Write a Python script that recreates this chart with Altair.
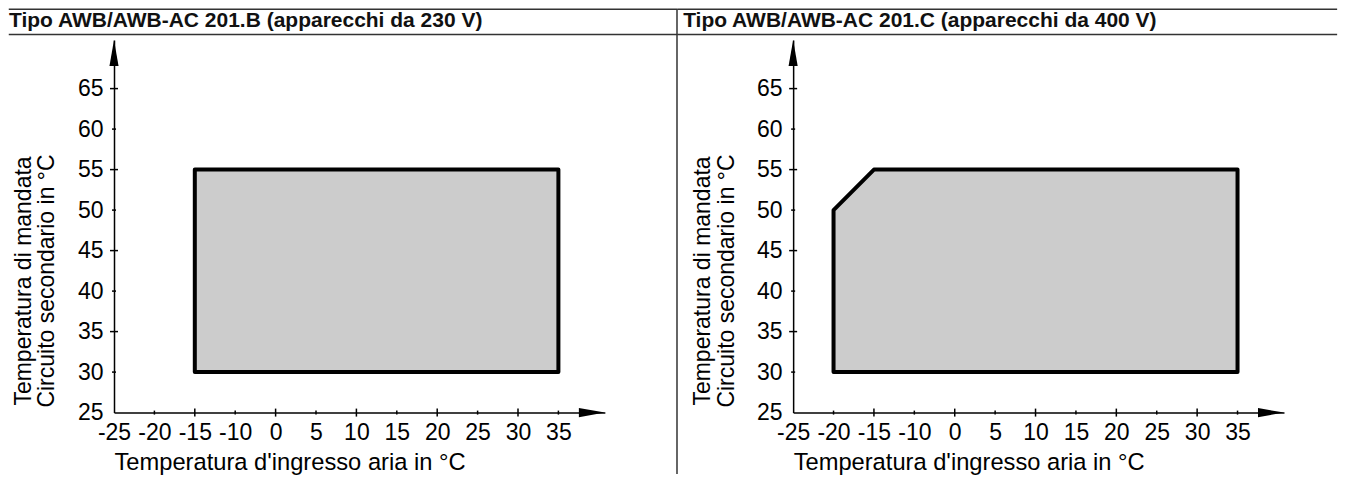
import altair as alt
import pandas as pd

# ---- data ----
titles = ["Tipo AWB/AWB-AC 201.B (apparecchi da 230 V)",
          "Tipo AWB/AWB-AC 201.C (apparecchi da 400 V)"]
x_title = "Temperatura d'ingresso aria in °C"
y_title = ["Temperatura di mandata", "Circuito secondario in °C"]

x_tick_values = [-25, -20, -15, -10, 0, 5, 10, 15, 20, 25, 30, 35]
x_major = [-15, 0, 10, 20, 30]
x_minor = [-20, -10, 5, 15, 25, 35]
y_tick_values = [25, 30, 35, 40, 45, 50, 55, 60, 65]
y_major = [35, 45, 55, 65]
y_minor = [30, 40, 50, 60]

# operating envelope, panel B (230 V)
b_x = [-15, 35]
b_top = [55, 55]
b_bottom = [30, 30]
# operating envelope, panel C (400 V)
c_x = [-20, -15, 35]
c_top = [50, 55, 55]
c_bottom = [30, 30, 30]

x_breaks = [-25, -10, 0, 40.75]   # axis runs -25..-10, then jumps to 0
y_domain = [25, 71]

# ---- layout ----
PX = 40.4                 # pixels per tick interval
W = 12.15 * PX
H = 372.6
FONT = "Liberation Sans"


def panel(title, xs, tops, bottoms, title_x, line_x0, line_x1, divider):
    xscale = alt.Scale(domain=x_breaks, range=[0, 3 * PX, 4 * PX, W], nice=False, zero=False)
    yscale = alt.Scale(domain=y_domain, nice=False, zero=False)

    env = pd.DataFrame({"x": xs, "top": tops, "bottom": bottoms})
    area = alt.Chart(env).mark_area(
        fill="#cccccc", stroke="black", strokeWidth=4, strokeJoin="round", opacity=1
    ).encode(
        x=alt.X("x:Q", scale=xscale, axis=alt.Axis(
            values=x_tick_values, labelExpr="'' + datum.value", title=x_title,
            labelPadding=9, titleX=0, titleY=57, titleAlign="left",
            titleBaseline="alphabetic", titleAngle=0, titleFontSize=23.7)),
        y=alt.Y("top:Q", scale=yscale, axis=alt.Axis(
            values=y_tick_values, labelExpr="'' + datum.value", title=y_title,
            labelPadding=11, titleX=-84, titleY=240.5, titleAngle=270,
            titleAlign="center", titleBaseline="alphabetic", titleLineHeight=24,
            titleFontSize=23)),
        y2="bottom:Q",
    )

    def ticks_y(vals, size):
        return alt.Chart(pd.DataFrame({"v": vals})).mark_tick(
            orient="horizontal", size=size, thickness=1.5, color="black", opacity=1
        ).encode(x=alt.datum(x_breaks[0]), y=alt.Y("v:Q"))

    def ticks_x(vals, size):
        return alt.Chart(pd.DataFrame({"v": vals})).mark_tick(
            orient="vertical", size=size, thickness=1.5, color="black", opacity=1
        ).encode(x=alt.X("v:Q"), y=alt.datum(y_domain[0]))

    one = pd.DataFrame({"t": [title]})
    arrow_x = alt.Chart(one).mark_point(
        shape="M0,0L-2,-0.35L-2,0.35Z", size=676, filled=True, color="black",
        opacity=1, strokeWidth=0
    ).encode(x=alt.datum(x_breaks[-1]), y=alt.datum(y_domain[0]))
    arrow_y = alt.Chart(one).mark_point(
        shape="M0,0L-0.35,2L0.35,2Z", size=676, filled=True, color="black",
        opacity=1, strokeWidth=0
    ).encode(x=alt.datum(x_breaks[0]), y=alt.datum(y_domain[1]))

    head = alt.Chart(one).mark_text(
        align="left", baseline="alphabetic", font=FONT, fontSize=21,
        fontWeight="bold", color="#111111"
    ).encode(x=alt.value(title_x), y=alt.value(-13), text="t:N")

    top_line = alt.Chart(one).mark_rule(color="#333333", strokeWidth=1.5).encode(
        x=alt.value(line_x0), x2=alt.value(line_x1), y=alt.value(-30.75))
    sub_line = alt.Chart(one).mark_rule(color="#333333", strokeWidth=1.5).encode(
        x=alt.value(line_x0), x2=alt.value(line_x1), y=alt.value(-5.5))
    layers = [area, ticks_y(y_major, 8), ticks_y(y_minor, 4),
              ticks_x(x_major, 8), ticks_x(x_minor, 4),
              arrow_x, arrow_y, head, top_line, sub_line]
    if divider is not None:
        layers.append(alt.Chart(one).mark_rule(color="#333333", strokeWidth=1.5).encode(
            x=alt.value(divider), y=alt.value(-30.75), y2=alt.value(434)))
    return alt.layer(*layers).properties(width=W, height=H)


left = panel(titles[0], b_x, b_top, b_bottom, -105, -105.25, 563, 563)
right = panel(titles[1], c_x, c_top, c_bottom, -110, -116, 544, None)

chart = alt.hconcat(left, right, spacing=679 - W, bounds="flush").properties(
    padding=0
).configure_view(stroke=None).configure_axis(
    grid=False, ticks=False, tickSize=0, domainColor="black", domainWidth=1.5,
    labelFont=FONT, labelFontSize=23, labelColor="black", labelOverlap=False,
    labelFlush=False, labelBound=False,
    titleFont=FONT, titleFontSize=23, titleFontWeight="normal", titleColor="black"
)

chart.save("out.html", embed_options={"renderer": "svg", "actions": False})
